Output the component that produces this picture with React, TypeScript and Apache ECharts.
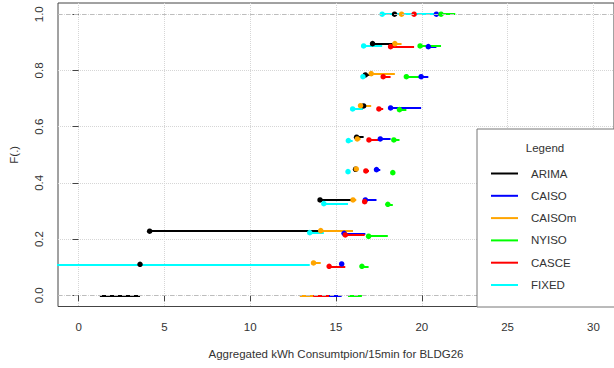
import React, { useEffect, useRef } from "react";
import * as echarts from "echarts";

const seriesNames = ["ARIMA", "CAISO", "CAISOm", "NYISO", "CASCE", "FIXED"];
const seriesColors = ["#000000", "#0000FF", "#FFA500", "#00FF00", "#FF0000", "#00FFFF"];

// sorted knots (x values where the ECDF steps up), per series
const arimaKnots = [3.58, 4.14, 14.07, 16.14, 16.2, 16.61, 16.71, 17.13, 18.41];
const caisoKnots = [15.33, 15.47, 16.71, 17.36, 17.58, 18.18, 19.96, 20.38, 20.85];
const caisomKnots = [13.69, 14.11, 15.99, 16.18, 16.24, 16.43, 17.05, 18.43, 18.82];
const nyisoKnots = [16.51, 16.9, 18.02, 18.31, 18.37, 18.7, 19.1, 19.9, 21.12];
const casceKnots = [14.6, 15.54, 16.67, 16.74, 16.92, 17.5, 17.75, 18.18, 19.55];
const fixedKnots = [-3.0, 13.47, 14.29, 15.7, 15.72, 15.97, 16.57, 16.61, 17.69];
const allKnots = [arimaKnots, caisoKnots, caisomKnots, nyisoKnots, casceKnots, fixedKnots];

// F level of each knot as drawn (inner steps, slightly jittered in the source)
const arimaF = [0.1103, 0.2278, 0.3391, 0.4484, 0.5623, 0.6737, 0.784, 0.8954, 1.0];
const caisoF = [0.1114, 0.2206, 0.3391, 0.447, 0.5562, 0.6665, 0.7779, 0.8847, 1.0];
const caisomF = [0.1149, 0.2299, 0.3391, 0.4495, 0.5562, 0.6747, 0.7886, 0.8954, 1.0];
const nyisoF = [0.1032, 0.21, 0.3238, 0.4363, 0.5527, 0.6605, 0.7779, 0.8872, 1.0];
const casceF = [0.1032, 0.2146, 0.3331, 0.4423, 0.5527, 0.663, 0.7779, 0.8847, 1.0];
const fixedF = [0.1103, 0.2228, 0.326, 0.4399, 0.5502, 0.663, 0.7779, 0.8872, 1.0];
const allF = [arimaF, caisoF, caisomF, nyisoF, casceF, fixedF];

// ends of the outer horizontal segments (F = 0 on the left, F = 1 on the right)
const leftEnds = [1.24, 14.2, 12.89, 15.7, 13.67, -6];
const rightEnds = [19.6, 21.5, 20.0, 21.95, 20.5, 20.9];

const xTicks = [0, 5, 10, 15, 20, 25, 30];
const yTicks = [0, 0.2, 0.4, 0.6, 0.8, 1.0];
const refLevels = [0, 1];

const FONT = "'Liberation Sans', Arial, sans-serif";
const TXT = "#333333";

export default function App() {
  const ref = useRef<HTMLDivElement>(null);
  useEffect(() => {
    if (!ref.current) return;
    const chart = echarts.init(ref.current, undefined, { renderer: "svg" });
    const series: any[] = [];
    allKnots.forEach((knots, si) => {
      const F = allF[si];
      const n = knots.length;
      const segs: any[] = [];
      segs.push({ coords: [[leftEnds[si], 0], [knots[0], 0]] });
      for (let k = 1; k < n; k++) {
        segs.push({ coords: [[knots[k - 1], F[k - 1]], [knots[k], F[k - 1]]] });
      }
      segs.push({ coords: [[knots[n - 1], F[n - 1]], [rightEnds[si], F[n - 1]]] });
      series.push({
        type: "lines",
        name: seriesNames[si],
        coordinateSystem: "cartesian2d",
        polyline: false,
        clip: true,
        silent: true,
        lineStyle: { color: seriesColors[si], width: 2, opacity: 1 },
        data: segs,
      });
      series.push({
        type: "scatter",
        name: seriesNames[si],
        clip: true,
        symbol: "circle",
        symbolSize: 5.5,
        itemStyle: { color: seriesColors[si], opacity: 1 },
        data: knots.map((x, k) => [x, F[k]]),
      });
      if (si === 0) {
        series.push({
          type: "line",
          data: [],
          silent: true,
          markLine: {
            symbol: "none",
            silent: true,
            label: { show: false },
            lineStyle: { color: "#bdbdbd", type: [4, 4], width: 1 },
            data: refLevels.map((v) => ({ yAxis: v })),
          },
        });
      }
    });

    const legendItems: any[] = [
      {
        type: "rect",
        shape: { x: 477, y: 129, width: 170, height: 178 },
        style: { fill: "#ffffff", stroke: "#777777", lineWidth: 1 },
        z: 100,
      },
      {
        type: "text",
        x: 545,
        y: 148,
        style: { text: "Legend", font: `11.5px ${FONT}`, fill: TXT, align: "center", verticalAlign: "middle" },
        z: 101,
      },
    ];
    seriesNames.forEach((nm, i) => {
      const y = 173.5 + i * 22.3;
      legendItems.push({
        type: "line",
        shape: { x1: 491, y1: y, x2: 518, y2: y },
        style: { stroke: seriesColors[i], lineWidth: 2 },
        z: 101,
      });
      legendItems.push({
        type: "text",
        x: 531,
        y: y,
        style: { text: nm, font: `11.5px ${FONT}`, fill: TXT, align: "left", verticalAlign: "middle" },
        z: 101,
      });
    });

    chart.setOption({
      animation: false,
      grid: { left: 58, top: 3, width: 558, height: 303.5, show: true, borderColor: "#444444", borderWidth: 1, backgroundColor: "transparent" },
      xAxis: {
        type: "value",
        min: -1.2,
        max: 31.2,
        name: "Aggregated kWh Consumtpion/15min for BLDG26",
        nameLocation: "middle",
        nameGap: 41,
        nameTextStyle: { fontFamily: FONT, fontSize: 11.5, color: TXT },
        axisLine: { show: false },
        axisTick: { show: true, customValues: xTicks, length: 6, lineStyle: { color: "#444444" } },
        axisLabel: { customValues: xTicks, fontFamily: FONT, fontSize: 11.5, color: TXT, margin: 14 },
        splitLine: { show: true, lineStyle: { color: "#d6d6d6", type: "dotted", width: 1 } },
      },
      yAxis: {
        type: "value",
        min: -0.04,
        max: 1.04,
        name: "F(.)",
        nameLocation: "middle",
        nameGap: 38,
        nameRotate: 90,
        nameTextStyle: { fontFamily: FONT, fontSize: 11.5, color: TXT },
        axisLine: { show: false },
        axisTick: { show: true, customValues: yTicks, length: 6, lineStyle: { color: "#444444" } },
        axisLabel: { show: false, customValues: yTicks },
        splitLine: { show: true, lineStyle: { color: "#d6d6d6", type: "dotted", width: 1 } },
      },
      series,
      graphic: legendItems,
    });

    // y tick labels, rotated like the source, placed through the axis scale
    const yLabelItems = yTicks.map((v) => {
      const p = chart.convertToPixel({ gridIndex: 0 }, [0, v]) as number[];
      return {
        type: "text",
        x: 39,
        y: p[1],
        rotation: Math.PI / 2,
        style: { text: v.toFixed(1), font: `11.5px ${FONT}`, fill: TXT, align: "center", verticalAlign: "middle" },
        z: 50,
      };
    });
    chart.setOption({ graphic: [...legendItems, ...yLabelItems] });
    return () => chart.dispose();
  }, []);
  return <div ref={ref} style={{ position: "fixed", left: 0, top: 0, width: 614, height: 368, background: "#fff" }} />;
}
